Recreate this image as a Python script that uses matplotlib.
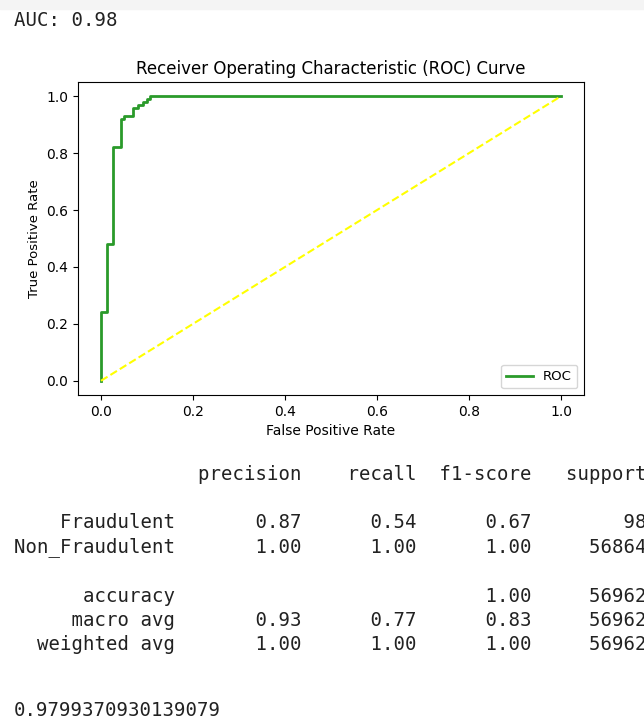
import matplotlib
matplotlib.use("Agg")
from matplotlib import pyplot as plt
from matplotlib.patches import Rectangle

# ROC curve points
fpr = [0.0, 0.0, 0.013, 0.013, 0.025, 0.025, 0.043, 0.043, 0.05, 0.05, 0.07, 0.07,
       0.08, 0.08, 0.092, 0.092, 0.1, 0.1, 0.107, 0.107, 1.0]
tpr = [0.0, 0.24, 0.24, 0.48, 0.48, 0.82, 0.82, 0.92, 0.92, 0.93, 0.93, 0.96,
       0.96, 0.97, 0.97, 0.98, 0.98, 0.99, 0.99, 1.0, 1.0]
diag = [0.0, 1.0]

auc = 0.98
auc_full = 0.9799370930139079

# classification report
classes = ["Fraudulent", "Non_Fraudulent"]
precision = [0.87, 1.00]
recall = [0.54, 1.00]
f1 = [0.67, 1.00]
support = [98, 56864]
accuracy = 1.00
total = 56962
avg_names = ["macro avg", "weighted avg"]
avg_vals = [[0.93, 0.77, 0.83], [1.00, 1.00, 1.00]]

W, H = 644, 719
fig = plt.figure(figsize=(W / 100, H / 100), dpi=100)
fig.patch.set_facecolor("white")

# faint notebook cell band at top
fig.patches.append(Rectangle((0, 1 - 9 / H), 1, 9 / H, transform=fig.transFigure,
                             color="#f4f4f4", zorder=0))

ax = fig.add_axes([78 / W, 1 - 395 / H, (584 - 78) / W, (395 - 82) / H])
ax.plot(fpr, tpr, color="#2a9a2a", lw=2, label="ROC")
ax.plot(diag, diag, color="yellow", ls="--", lw=1.5)
ax.set_title("Receiver Operating Characteristic (ROC) Curve", fontsize=12)
ax.set_xlabel("False Positive Rate", fontsize=10)
ax.set_ylabel("True Positive Rate", fontsize=9.5)
ax.tick_params(labelsize=10)
ax.legend(loc="lower right", fontsize=9.5)

mono = dict(family="DejaVu Sans Mono", fontsize=13.7, va="center", ha="left",
            color="#222222")

def line(y, s):
    fig.text(14 / W, 1 - y / H, s, **mono)

line(20, "AUC: %.2f" % auc)

# same layout as sklearn's classification_report
w = 14
line(474, " " * w + " " + "".join(" {:>9}".format(h) for h in
                                   ["precision", "recall", "f1-score", "support"]))
row = "{:>{w}s}  {:>9.2f} {:>9.2f} {:>9.2f} {:>9}"
for y, c, p, r, f, s in zip([523, 547], classes, precision, recall, f1, support):
    line(y, row.format(c, p, r, f, s, w=w))
line(596, "{:>{w}s}  {:>9} {:>9} {:>9.2f} {:>9}".format("accuracy", "", "", accuracy, total, w=w))
for y, n, v in zip([620, 644], avg_names, avg_vals):
    line(y, row.format(n, v[0], v[1], v[2], total, w=w))

line(711, repr(auc_full))

fig.savefig("out.png", dpi=100)
